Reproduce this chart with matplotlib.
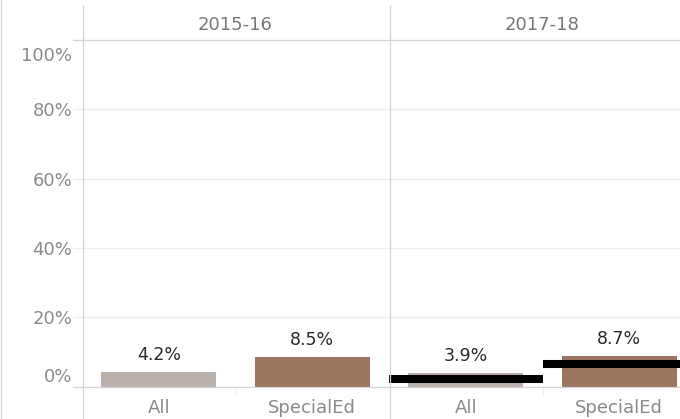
import matplotlib.pyplot as plt
from matplotlib.lines import Line2D
from matplotlib.transforms import ScaledTranslation

# data
years = ['2015-16', '2017-18']
groups = ['All', 'SpecialEd']
rate_1516 = [4.2, 8.5]
rate_1718 = [3.9, 8.7]
ref_1718 = [2.2, 6.5]          # black reference lines (2017-18 only)
yticks = [0, 20, 40, 60, 80, 100]
bar_colors = ['#bab0ac', '#9c755f']

W, H = 680, 419
fig = plt.figure(figsize=(W / 100, H / 100), dpi=100)
plt.rcParams['font.family'] = 'DejaVu Sans'


def fx(px):
    return px / W


def fy(py):
    return 1 - py / H


top, bottom = 40, 386.5
panel_w = 307
lefts = [82, 389]
border = '#d4d4d4'
grid = '#efefef'

panels = [(years[0], rate_1516, None), (years[1], rate_1718, ref_1718)]
for i, (year, vals, refs) in enumerate(panels):
    ax = fig.add_axes([fx(lefts[i]), fy(bottom), panel_w / W, (bottom - top) / H])
    x = range(len(groups))
    ax.bar(x, vals, width=0.75, color=bar_colors, zorder=2)
    for xi, v in zip(x, vals):
        ax.annotate(f'{v:.1f}%', (xi, v), xytext=(0, 6), textcoords='offset points',
                    ha='center', va='bottom', fontsize=12.5, color='#2a2a2a')
    if refs is not None:
        for xi, r in zip(x, refs):
            ax.hlines(r, xi - 0.5, xi + 0.5, color='black', lw=5.8, zorder=3,
                      capstyle='butt', clip_on=False)

    ax.set_xlim(-0.5, 1.5)
    ax.set_ylim(0, 100)
    for s in ax.spines.values():
        s.set_visible(False)

    ax.set_xticks(list(x))
    ax.set_xticklabels(groups)
    ax.set_xticks([0.5], minor=True)
    ax.tick_params(axis='x', which='major', length=0, pad=9, labelsize=13, labelcolor='#8a8a8a')
    ax.tick_params(axis='x', which='minor', length=6, color='#ececec', width=0.8)

    ax.set_yticks(yticks)
    ax.grid(axis='y', color=grid, lw=1)
    ax.set_axisbelow(True)
    if i == 0:
        ax.set_yticklabels([f'{t}%' for t in yticks])
        ax.tick_params(axis='y', length=6.5, color=grid, width=1, pad=0.7,
                       labelsize=13, labelcolor='#8a8a8a')
        labels = ax.get_yticklabels()
        labels[0].set_transform(labels[0].get_transform()
                                + ScaledTranslation(0, 12 / 100, fig.dpi_scale_trans))
        labels[-1].set_transform(labels[-1].get_transform()
                                 + ScaledTranslation(0, -14 / 100, fig.dpi_scale_trans))
    else:
        ax.tick_params(axis='y', length=0, labelleft=False)

    ax.annotate(year, (0.5, 1), xycoords='axes fraction', xytext=(0, 11),
                textcoords='offset points', ha='center', va='center',
                fontsize=13, color='#777777')

# frame lines of the table layout
lw = 0.9
fig.add_artist(Line2D([fx(73), 1], [fy(40), fy(40)], color=border, lw=lw))
fig.add_artist(Line2D([fx(73), 1], [fy(387), fy(387)], color=border, lw=lw))
for xp in [82.5, 389.5]:
    fig.add_artist(Line2D([fx(xp), fx(xp)], [fy(6), 0], color=border, lw=lw))
fig.add_artist(Line2D([fx(1), fx(1)], [1, 0], color=border, lw=lw))

fig.savefig('out.png', dpi=100)
